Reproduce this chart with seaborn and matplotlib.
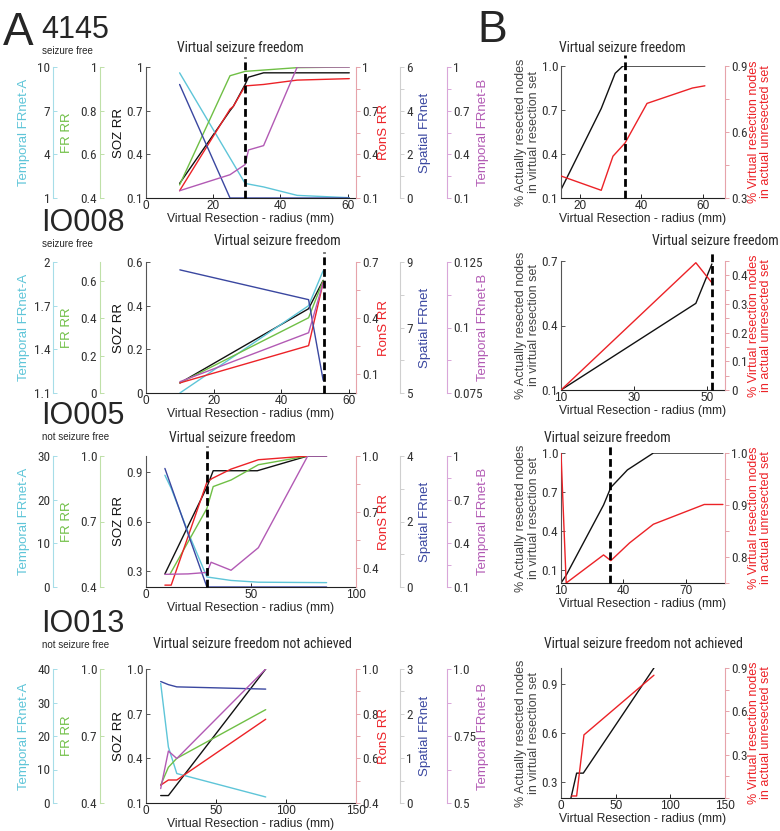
import matplotlib.pyplot as plt
import seaborn as sns
from matplotlib import font_manager
from matplotlib.font_manager import FontProperties
from matplotlib.ticker import AutoMinorLocator

sns.set_style("ticks")
plt.rcParams['font.family'] = ['Liberation Sans', 'DejaVu Sans']

# find a condensed face for the narrow tick labels / titles
PREF = ['LiberationSansNarrow-Regular', 'RobotoCondensed-Regular', 'DejaVuSansCondensed.',
        'OpenSans_Condensed-Regular', 'OpenSansCondensed', 'Condensed-Regular', 'Narrow']
narrow_file = None
for key in PREF:
    hits = [f.fname for f in font_manager.fontManager.ttflist
            if key in f.fname.split('/')[-1] and f.style == 'normal'
            and f.weight in (400, 'normal', 'regular', 'book')]
    if hits:
        narrow_file = sorted(hits)[0]
        break


def nfont(size):
    if narrow_file:
        return FontProperties(fname=narrow_file, size=size)
    return FontProperties(family='Liberation Sans', size=size * 0.82)


CYAN = '#5ec5d8'
GREEN = '#6fbf45'
RED = '#ec2227'
BLUE = '#3a47a0'
MAGENTA = '#b25ab4'
BLACK = '#111111'

XLABEL = 'Virtual Resection - radius (mm)'

# ---------- 4145 (seizure free) ----------
p1_soz_x = [10, 25, 26, 29.5, 30.5, 35, 60.5]
p1_soz = [0.20, 0.70, 0.73, 0.88, 0.93, 0.96, 0.96]
p1_rons_x = [10, 25, 26, 29.5, 35, 45, 60.5]
p1_rons = [0.15, 0.71, 0.73, 0.87, 0.88, 0.91, 0.92]
p1_fr_x = [10, 25, 29.5, 45, 60.5]
p1_fr = [0.46, 0.96, 0.98, 0.997, 1.0]
p1_tfa_x = [10, 29.5, 35, 45, 60.5]
p1_tfa = [9.6, 2.0, 1.76, 1.18, 1.02]
p1_sfr_x = [10, 25, 60.5]
p1_sfr = [5.2, 0.0, 0.0]
p1_tfb_x = [10, 25, 29.5, 30.5, 35, 45, 60.5]
p1_tfb = [0.15, 0.26, 0.33, 0.43, 0.46, 1.0, 1.0]
p1_vsf = 29.5
p1_xticks = [0, 20, 40, 60]
p1_soz_tl, p1_rons_tl, p1_fr_tl = ['0.1', '0.4', '0.7', '1'], ['0.1', '0.4', '0.7', '1'], ['0.4', '0.6', '0.8', '1']
p1_tfa_tl, p1_sfr_tl, p1_tfb_tl = ['1', '4', '7', '10'], ['0', '2', '4', '6'], ['0.1', '0.4', '0.7', '1']

b1_act_x = [14, 27, 31.5, 34, 60.5]
b1_act = [0.157, 0.71, 0.95, 1.0, 1.0]
b1_unr_x = [14, 27, 30.8, 34.7, 41.8, 56.5, 60.5]
b1_unr = [0.40, 0.335, 0.49, 0.55, 0.73, 0.80, 0.81]
b1_vsf = 34.8
b1_xticks = [20, 40, 60]
b1_act_tl, b1_unr_tl = ['0.1', '0.4', '0.7', '1.0'], ['0.3', '0.6', '0.9']

# ---------- IO008 (seizure free) ----------
p2_x = [10, 48, 52.3]
p2_soz = [0.046, 0.386, 0.516]
p2_rons = [0.054, 0.253, 0.59]
p2_fr = [0.054, 0.402, 0.60]
p2_tfa = [1.1, 1.70, 1.94]
p2_sfr = [8.76, 7.85, 5.39]
p2_tfb = [0.0793, 0.098, 0.117]
p2_vsf = 52.6
p2_xticks = [0, 20, 40, 60]
p2_soz_tl, p2_rons_tl, p2_fr_tl = ['0', '0.2', '0.4', '0.6'], ['0.1', '0.4', '0.7'], ['0', '0.2', '0.4', '0.6']
p2_tfa_tl, p2_sfr_tl, p2_tfb_tl = ['1.1', '1.4', '1.7', '2'], ['5', '7', '9'], ['0.075', '0.1', '0.125']

b2_x = [10, 47, 51.4]
b2_act = [0.1, 0.503, 0.686]
b2_unr = [0.0, 0.444, 0.374]
b2_vsf = 51.4
b2_xticks = [10, 30, 50]
b2_act_tl, b2_unr_tl = ['0.1', '0.4', '0.7'], ['0', '0.1', '0.2', '0.3', '0.4']

# ---------- IO005 (not seizure free) ----------
p3_soz_x = [9, 29, 32, 53, 77, 86]
p3_soz = [0.28, 0.81, 0.91, 0.91, 1.0, 1.0]
p3_rons_x = [9, 12, 29, 31.5, 40.5, 53.5, 77]
p3_rons = [0.31, 0.31, 0.86, 0.88, 0.93, 0.98, 1.0]
p3_fr_x = [11.5, 29, 32, 40.5, 53.5, 77]
p3_fr = [0.46, 0.76, 0.86, 0.89, 0.96, 1.0]
p3_tfa_x = [9, 12, 20.5, 29, 40.5, 53.5, 86]
p3_tfa = [25.6, 22.6, 12.0, 2.3, 1.5, 1.1, 1.0]
p3_sfr_x = [9, 29, 86]
p3_sfr = [3.62, 0.0, 0.0]
p3_tfb_x = [9, 20, 29, 31, 40.5, 53.5, 77, 86]
p3_tfb = [0.187, 0.19, 0.20, 0.27, 0.215, 0.37, 1.0, 1.0]
p3_vsf = 28.9
p3_xticks = [0, 50, 100]
p3_soz_tl, p3_rons_tl, p3_fr_tl = ['0.3', '0.6', '0.9'], ['0.4', '0.7', '1.0'], ['0.4', '0.7', '1.0']
p3_tfa_tl, p3_sfr_tl, p3_tfb_tl = ['0', '10', '20', '30'], ['0', '2', '4'], ['0.1', '0.4', '0.7', '1']

b3_act_x = [10, 12.5, 30.5, 34, 42, 54.5, 88]
b3_act = [0.0, 0.06, 0.60, 0.735, 0.87, 1.0, 1.0]
b3_unr_x = [10, 12.5, 30.5, 34, 43, 54.5, 79, 88]
b3_unr = [1.0, 0.75, 0.804, 0.793, 0.827, 0.863, 0.901, 0.901]
b3_vsf = 33.8
b3_xticks = [10, 40, 70]
b3_act_tl, b3_unr_tl = ['0.1', '0.4', '0.7', '1.0'], ['0.8', '0.9', '1.0']

# ---------- IO013 (not seizure free) ----------
p4_soz_x = [10.5, 16, 85.5]
p4_soz = [0.15, 0.15, 1.0]
p4_x = [10.5, 16, 22, 85.5]
p4_rons = [0.48, 0.503, 0.503, 0.775]
p4_fr = [0.48, 0.56, 0.60, 0.818]
p4_tfa = [35.7, 16.7, 8.8, 1.8]
p4_sfr = [2.72, 2.65, 2.6, 2.55]
p4_tfb = [0.554, 0.694, 0.666, 1.0]
p4_xticks = [0, 50, 100, 150]
p4_soz_tl, p4_rons_tl, p4_fr_tl = ['0.1', '0.4', '0.7', '1.0'], ['0.4', '0.6', '0.8', '1.0'], ['0.4', '0.7', '1.0']
p4_tfa_tl, p4_sfr_tl, p4_tfb_tl = ['0', '10', '20', '30', '40'], ['0', '1', '2', '3'], ['0.5', '0.75', '1.0']

b4_act_x = [9.1, 14.3, 20.4, 85]
b4_act = [0.2, 0.353, 0.353, 1.0]
b4_unr_x = [9.8, 14.3, 21, 85]
b4_unr = [0.014, 0.014, 0.437, 0.85]
b4_xticks = [0, 50, 100, 150]
b4_act_tl, b4_unr_tl = ['0.3', '0.6', '0.9'], ['0.3', '0.6', '0.9']

# ---------- layout ----------
W, H = 780, 831
fig = plt.figure(figsize=(7.8, 8.31), dpi=100)


def box(l, t, r, b):
    return [l / W, 1 - b / H, (r - l) / W, (b - t) / H]


# key, side, spine position, spine colour, label, label colour, label x
SCALES = [
    ('tfa', 'left', -0.443, '#a6dde8', 'Temporal FRnet-A', CYAN, -0.55),
    ('fr', 'left', -0.219, '#bfe0a8', 'FR RR', GREEN, -0.35),
    ('rons', 'right', 1.0, '#e6a3aa', 'RonS RR', RED, 1.105),
    ('sfr', 'right', 1.21, '#cfcfcf', 'Spatial FRnet', BLUE, 1.30),
    ('tfb', 'right', 1.433, '#d9a6d9', 'Temporal FRnet-B', MAGENTA, 1.575),
]
LINE_COLORS = {'soz': BLACK, 'rons': RED, 'fr': GREEN, 'tfa': CYAN, 'sfr': BLUE, 'tfb': MAGENTA}


def set_yscale(a, lim, labels, color, side='left'):
    a.set_ylim(lim)
    a.set_yticks([float(t) for t in labels], labels, fontproperties=nfont(9.5), color='#333333')
    if side == 'right':
        a.yaxis.set_minor_locator(AutoMinorLocator(2))
        a.tick_params(axis='y', which='both', direction='out', color=color, length=3, width=0.7, pad=1.5)
    else:
        a.tick_params(axis='y', which='both', direction='in', color=color, length=3, width=0.7, pad=2)


def set_x(ax, xlim, xticks):
    ax.set_xlim(xlim)
    ax.set_xticks(xticks, [str(v) for v in xticks], fontsize=8.5)
    ax.tick_params(axis='x', direction='in', length=3, width=0.7, pad=1.5)
    ax.set_xlabel(XLABEL, fontsize=8.7, labelpad=1)


def dashed(a, x):
    a.axvline(x, ymin=0, ymax=1.08, clip_on=False, color='k', lw=2.0, ls=(0, (2.8, 1.4)))


def panel_a(t, b, xlim, xticks, data, vsf=None):
    ax = fig.add_axes(box(146, t, 356, b))
    x, y, lim, tl = data['soz']
    sns.lineplot(x=x, y=y, ax=ax, color=BLACK, lw=1, errorbar=None)
    for s in ['top', 'right']:
        ax.spines[s].set_visible(False)
    ax.spines['left'].set_color('#555555')
    ax.spines['bottom'].set_color('#222222')
    set_yscale(ax, lim, tl, '#555555')
    ax.set_ylabel('SOZ RR', fontsize=9.5, color=BLACK)
    ax.yaxis.set_label_coords(-0.1, 0.5)
    last = ax
    for key, side, pos, sc, label, lc, lx in SCALES:
        tw = ax.twinx()
        for s in tw.spines.values():
            s.set_visible(False)
        tw.spines[side].set_visible(True)
        tw.spines[side].set_position(('axes', pos))
        tw.spines[side].set_color(sc)
        tw.yaxis.set_ticks_position(side)
        tw.yaxis.set_label_position(side)
        x, y, lim, tl = data[key]
        sns.lineplot(x=x, y=y, ax=tw, color=LINE_COLORS[key], lw=1, errorbar=None)
        set_yscale(tw, lim, tl, sc, side)
        tw.set_ylabel(label, fontsize=9.5, color=lc)
        tw.yaxis.set_label_coords(lx, 0.5)
        last = tw
    if vsf is not None:
        dashed(last, vsf)
    set_x(ax, xlim, xticks)
    return ax


def panel_b(t, b, xlim, xticks, act, unr, vsf=None):
    ax = fig.add_axes(box(561, t, 725, b))
    sns.lineplot(x=act[0], y=act[1], ax=ax, color=BLACK, lw=1, errorbar=None)
    for s in ['top', 'right']:
        ax.spines[s].set_visible(False)
    ax.spines['left'].set_color('#555555')
    ax.spines['bottom'].set_color('#222222')
    set_yscale(ax, act[2], act[3], '#555555')
    ax.set_ylabel('% Actually resected nodes\nin virtual resection set', fontsize=9, color='#444444',
                  linespacing=1.05)
    ax.yaxis.set_label_coords(-0.13, 0.5)
    tw = ax.twinx()
    for s in ['top', 'left', 'bottom']:
        tw.spines[s].set_visible(False)
    tw.spines['right'].set_color('#e6a3aa')
    sns.lineplot(x=unr[0], y=unr[1], ax=tw, color=RED, lw=1, errorbar=None)
    set_yscale(tw, unr[2], unr[3], '#e6a3aa', 'right')
    tw.set_ylabel('% Virtual resection nodes\nin actual unresected set', fontsize=9, color=RED,
                  linespacing=1.05)
    tw.yaxis.set_label_coords(1.14, 0.5)
    if vsf is not None:
        dashed(tw, vsf)
    set_x(ax, xlim, xticks)
    return ax


# row 1: 4145
panel_a(67, 198, (0, 62.5), p1_xticks, {
    'soz': (p1_soz_x, p1_soz, (0.1, 1), p1_soz_tl),
    'rons': (p1_rons_x, p1_rons, (0.1, 1), p1_rons_tl),
    'fr': (p1_fr_x, p1_fr, (0.4, 1), p1_fr_tl),
    'tfa': (p1_tfa_x, p1_tfa, (1, 10), p1_tfa_tl),
    'sfr': (p1_sfr_x, p1_sfr, (0, 6), p1_sfr_tl),
    'tfb': (p1_tfb_x, p1_tfb, (0.1, 1), p1_tfb_tl),
}, p1_vsf)
panel_b(66, 198, (14, 67), b1_xticks,
        (b1_act_x, b1_act, (0.1, 1.0), b1_act_tl),
        (b1_unr_x, b1_unr, (0.3, 0.9), b1_unr_tl), b1_vsf)

# row 2: IO008
panel_a(262, 393, (0, 62), p2_xticks, {
    'soz': (p2_x, p2_soz, (0, 0.6), p2_soz_tl),
    'rons': (p2_x, p2_rons, (0, 0.7), p2_rons_tl),
    'fr': (p2_x, p2_fr, (0, 0.7), p2_fr_tl),
    'tfa': (p2_x, p2_tfa, (1.1, 2), p2_tfa_tl),
    'sfr': (p2_x, p2_sfr, (5, 9), p2_sfr_tl),
    'tfb': (p2_x, p2_tfb, (0.075, 0.125), p2_tfb_tl),
}, p2_vsf)
panel_b(261, 390, (10, 55), b2_xticks,
        (b2_x, b2_act, (0.1, 0.7), b2_act_tl),
        (b2_x, b2_unr, (0, 0.45), b2_unr_tl), b2_vsf)

# row 3: IO005
panel_a(456, 587, (0, 100), p3_xticks, {
    'soz': (p3_soz_x, p3_soz, (0.2, 1.0), p3_soz_tl),
    'rons': (p3_rons_x, p3_rons, (0.3, 1.0), p3_rons_tl),
    'fr': (p3_fr_x, p3_fr, (0.4, 1.0), p3_fr_tl),
    'tfa': (p3_tfa_x, p3_tfa, (0, 30), p3_tfa_tl),
    'sfr': (p3_sfr_x, p3_sfr, (0, 4), p3_sfr_tl),
    'tfb': (p3_tfb_x, p3_tfb, (0.1, 1), p3_tfb_tl),
}, p3_vsf)
panel_b(453, 583, (10, 89), b3_xticks,
        (b3_act_x, b3_act, (0, 1.0), b3_act_tl),
        (b3_unr_x, b3_unr, (0.75, 1.0), b3_unr_tl), b3_vsf)

# row 4: IO013
panel_a(669, 803, (0, 150), p4_xticks, {
    'soz': (p4_soz_x, p4_soz, (0.1, 1.0), p4_soz_tl),
    'rons': (p4_x, p4_rons, (0.4, 1.0), p4_rons_tl),
    'fr': (p4_x, p4_fr, (0.4, 1.0), p4_fr_tl),
    'tfa': (p4_x, p4_tfa, (0, 40), p4_tfa_tl),
    'sfr': (p4_x, p4_sfr, (0, 3), p4_sfr_tl),
    'tfb': (p4_x, p4_tfb, (0.5, 1.0), p4_tfb_tl),
})
panel_b(668, 798, (0, 150), b4_xticks,
        (b4_act_x, b4_act, (0.2, 1.0), b4_act_tl),
        (b4_unr_x, b4_unr, (0, 0.9), b4_unr_tl))

# ---------- text ----------
def ftext(x, y, s, **kw):
    fig.text(x / W, 1 - y / H, s, va='baseline', **kw)


ftext(3, 45, 'A', fontsize=33)
ftext(477, 42, 'B', fontsize=32)
for name, status, y in [('4145', 'seizure free', 38), ('IO008', 'seizure free', 231),
                        ('IO005', 'not seizure free', 424), ('IO013', 'not seizure free', 632)]:
    ftext(41, y, name, fontsize=22)
    ftext(42, y + 16, status, fontsize=7)

for cx, y, s in [(240, 52, 'Virtual seizure freedom'), (277, 245, 'Virtual seizure freedom'),
                 (232, 442, 'Virtual seizure freedom'), (252, 648, 'Virtual seizure freedom not achieved'),
                 (622, 52, 'Virtual seizure freedom'), (715, 245, 'Virtual seizure freedom'),
                 (607, 442, 'Virtual seizure freedom'), (643, 648, 'Virtual seizure freedom not achieved')]:
    ftext(cx, y, s, ha='center', fontproperties=nfont(10))

fig.savefig('out.png', dpi=100)
